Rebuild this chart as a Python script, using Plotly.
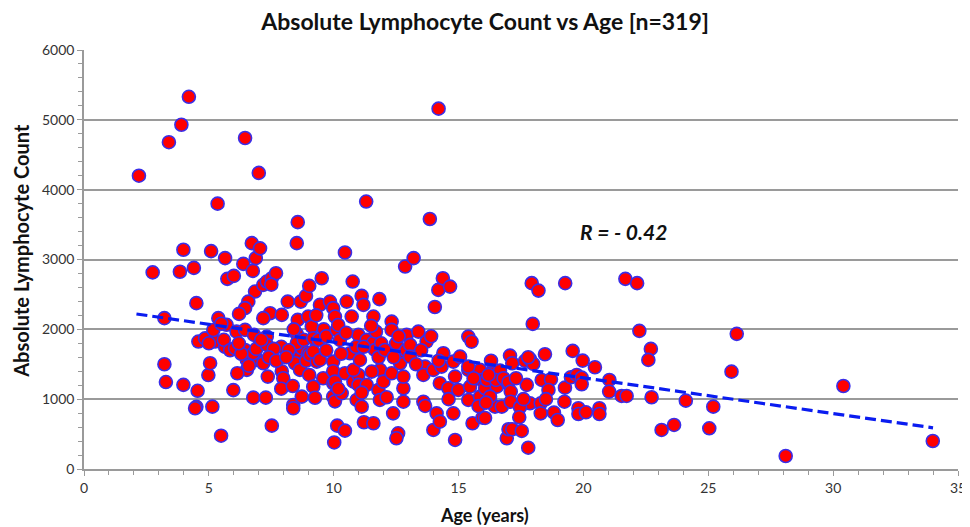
import plotly.graph_objects as go

# ---- data ----
age_a = [2.2, 3.4, 3.9, 4.2, 2.75, 3.84, 4.4, 3.98, 4.5, 3.22, 3.22, 3.28, 3.98, 4.55, 4.5, 4.58, 4.85, 4.98, 4.45]
alc_a = [4200, 4680, 4930, 5330, 2815, 2825, 2880, 3140, 2375, 2160, 1500, 1245, 1205, 1120, 890, 1825, 1870, 1345, 870]

age_b = [5.05, 5.14, 5.49, 5.35, 5.09, 5.65, 5.74, 5.25, 5.18, 5.38, 5.65, 5.71, 5.5, 5.98, 5.6, 5.85, 5.0]
alc_b = [1515, 893, 477, 3800, 3120, 3020, 2723, 1825, 1990, 2160, 1750, 2065, 2080, 1130, 1850, 1700, 1800]

age_c = [6.0, 6.05, 6.11, 6.45, 6.45, 6.81, 6.52, 6.14, 6.85, 6.78, 6.72, 6.88, 6.38, 6.76, 6.85, 6.58,
         6.45, 6.21, 6.45, 6.92, 6.52, 6.78, 6.3, 6.6, 6.9, 6.2]
alc_c = [2765, 1730, 1967, 1992, 1705, 1920, 1419, 1371, 1609, 1022, 3234, 3019, 2937, 2837, 2541, 2397,
         2303, 2221, 4740, 1562, 1562, 1658, 1650, 1480, 1720, 1800]

age_d = [7.0, 7.05, 7.18, 7.32, 7.52, 7.69, 7.5, 7.45, 7.92, 7.18, 7.32, 7.9, 7.18, 7.36, 7.92, 7.98,
         7.9, 7.28, 7.52, 7.32, 7.6, 7.1, 7.4, 7.7]
alc_d = [4240, 3160, 2637, 2684, 2732, 2804, 2640, 2230, 2207, 2160, 1896, 1750, 1514, 1323, 1400, 1300,
         1150, 1022, 621, 1777, 1720, 1850, 1600, 1550]

age_e = [8.56, 8.52, 8.16, 8.68, 8.56, 8.98, 8.52, 8.65, 8.45, 8.72, 8.36, 8.38, 8.38, 8.72, 8.65, 8.89,
         8.52, 8.98, 8.2, 8.8, 8.9, 8.1, 8.4]
alc_e = [3535, 3234, 2397, 2397, 2135, 2183, 1935, 1609, 1514, 1729, 1189, 917, 870, 1036, 1420, 2479,
         1801, 1658, 1700, 1850, 1550, 1600, 2000]

age_f = [9.02, 9.52, 9.45, 9.12, 9.18, 9.05, 9.32, 9.02, 9.18, 9.25, 9.58, 9.85, 9.98, 9.98, 9.98, 9.98,
         9.18, 9.45, 9.98, 9.6, 9.4, 9.7, 9.7, 9.3]
alc_f = [2622, 2732, 2350, 2039, 1872, 1634, 1538, 1347, 1179, 1020, 1300, 2397, 2303, 1538, 1400, 1036,
         1681, 1562, 1228, 2000, 1850, 1700, 1900, 2200]

age_g = [10.05, 10.12, 10.25, 10.05, 10.05, 10.32, 10.02, 10.14, 10.45, 10.45, 10.52, 10.76, 10.72, 10.99,
         10.18, 10.65, 10.79, 10.99, 10.79, 10.99, 10.92, 10.45, 10.3, 10.9, 10.5, 10.18]
alc_g = [2183, 1992, 1849, 1251, 969, 1084, 380, 621, 549, 1371, 2397, 2684, 2183, 1920,
         2063, 1658, 1251, 1347, 1419, 1204, 989, 3100, 1650, 1750, 1950, 1150]

age_h = [11.3, 11.12, 11.19, 11.32, 11.59, 11.59, 11.69, 11.83, 11.05, 11.12, 11.21, 11.59, 11.32, 11.79,
         11.86, 11.65, 11.52, 11.99, 11.12, 11.85, 11.8, 11.2, 11.5, 11.9]
alc_h = [3830, 2479, 2350, 1849, 2183, 1810, 1967, 2432, 1562, 893, 669, 655, 1204, 1132,
         1419, 1705, 1394, 1251, 1094, 989, 1600, 1750, 2050, 1800]

age_i = [12.05, 12.12, 12.32, 12.32, 12.38, 12.58, 12.51, 12.79, 12.79, 12.66, 12.92, 12.86, 12.66, 12.32,
         12.79, 12.5, 12.4, 12.9, 12.6]
alc_i = [1705, 1027, 2111, 1992, 797, 511, 440, 964, 1156, 1514, 1920, 2899, 1681, 1371,
         1323, 1800, 1600, 1700, 1900]

age_j = [13.2, 13.06, 13.39, 13.06, 13.66, 13.59, 13.72, 13.85, 14.05, 13.59, 13.66, 13.99, 13.99, 13.3,
         13.5, 13.9]
alc_j = [3020, 1777, 1967, 1609, 1466, 1347, 1824, 3580, 2320, 964, 903, 559, 1419, 1500,
         1700, 1900]

age_k = [14.2, 14.19, 14.37, 14.66, 14.12, 14.25, 14.86, 14.79, 14.25, 14.59, 14.32, 14.39, 14.79, 14.99,
         14.86, 14.6, 14.2]
alc_k = [5160, 2565, 2732, 2612, 797, 678, 416, 797, 1228, 1156, 1466, 1658, 1538, 1132,
         1323, 1000, 1550]

age_l = [15.06, 15.39, 15.52, 15.39, 15.39, 15.56, 15.86, 15.86, 15.96, 15.39, 15.46, 15.92, 15.6, 15.8]
alc_l = [1609, 1896, 1824, 1419, 989, 655, 1419, 1036, 735, 1466, 1179, 1275, 1300, 900]

age_m = [16.46, 16.33, 16.39, 16.06, 16.53, 16.13, 16.66, 16.5, 16.2, 16.26, 16.06, 16.73, 16.93, 16.97,
         16.3, 16.8, 16.1]
alc_m = [893, 1204, 1419, 1156, 1179, 1275, 1409, 1275, 1347, 1036, 731, 893, 440, 1228,
         1550, 1300, 950]

age_n = [17.06, 17.15, 17.66, 17.86, 17.99, 17.79, 17.93, 17.97, 17.0, 17.73, 17.09, 17.09, 17.86, 17.46,
         17.43, 17.0, 17.15, 17.53, 17.79, 17.3, 17.6]
alc_n = [1624, 1514, 1548, 1572, 1505, 1600, 2661, 2078, 1242, 1204, 1108, 964, 941, 884,
         741, 569, 569, 545, 305, 1300, 1000]

age_o = [18.2, 18.46, 18.33, 18.7, 18.6, 18.29, 18.29, 18.82, 18.97, 18.5]
alc_o = [2555, 1643, 1275, 1285, 1132, 941, 797, 807, 702, 1000]

age_p = [19.27, 19.57, 19.97, 19.26, 19.5, 19.73, 19.93, 19.93, 19.24, 19.8, 19.8]
alc_p = [2661, 1691, 1552, 1165, 1314, 1347, 1308, 1213, 964, 870, 788]

age_q = [20.46, 20.1, 20.64, 20.64]
alc_q = [1457, 812, 870, 788]

age_r = [21.04, 21.03, 21.53, 21.73, 21.68, 22.15, 22.24, 22.7, 22.6, 22.73, 24.1, 25.2, 23.13, 23.63,
         25.04, 25.93, 26.14, 28.1, 30.41, 33.99]
alc_r = [1275, 1108, 1046, 1046, 2723, 2661, 1978, 1720, 1562, 1027, 979, 893, 559, 631,
         583, 1394, 1935, 186, 1189, 401]

trend_age = [2.1, 34.0]
trend_alc = [2220, 590]

x_ticks = [0, 5, 10, 15, 20, 25, 30, 35]
y_ticks = [0, 1000, 2000, 3000, 4000, 5000, 6000]

ages = (age_a + age_b + age_c + age_d + age_e + age_f + age_g + age_h + age_i + age_j +
        age_k + age_l + age_m + age_n + age_o + age_p + age_q + age_r)
alcs = (alc_a + alc_b + alc_c + alc_d + alc_e + alc_f + alc_g + alc_h + alc_i + alc_j +
        alc_k + alc_l + alc_m + alc_n + alc_o + alc_p + alc_q + alc_r)

FONT = "Lato"
GRID = "#9a9a9a"

fig = go.Figure()
fig.add_trace(go.Scatter(
    x=ages, y=alcs, mode="markers",
    marker=dict(size=13, color="#ff0000", line=dict(color="#3a2ee8", width=1.6)),
    showlegend=False, hoverinfo="x+y"))
fig.add_trace(go.Scatter(
    x=trend_age, y=trend_alc, mode="lines",
    line=dict(color="#0a1cf0", width=3.2, dash="11px,5px"),
    showlegend=False, hoverinfo="skip"))

fig.add_annotation(x=21.6, y=3400, text="<b><i>R = - 0.42</i></b>", showarrow=False,
                   font=dict(family=FONT, size=21, color="#111111"))

# axis titles placed as paper annotations to match the reference positions
fig.add_annotation(xref="paper", yref="paper", x=0.4577, y=-0.11, xanchor="center", yanchor="middle",
                   text="<b>Age (years)</b>", showarrow=False,
                   font=dict(family=FONT, size=18, color="#111111"))
fig.add_annotation(xref="paper", yref="paper", x=-0.0725, y=0.52, xanchor="center", yanchor="middle",
                   text="<b>Absolute Lymphocyte Count</b>", showarrow=False, textangle=-90,
                   font=dict(family=FONT, size=20, color="#111111"))

# the page body has an 8px margin, so the figure is sized/offset to compensate
fig.update_layout(
    width=962, height=519,
    margin=dict(l=76, r=12, t=42, b=58),
    paper_bgcolor="white", plot_bgcolor="white",
    font=dict(family=FONT, color="#333333"),
    title=dict(text="<b>Absolute Lymphocyte Count vs Age [n=319]</b>", x=0.496, xanchor="center",
               y=0.973, yanchor="middle", font=dict(family=FONT, size=23, color="#111111")),
    xaxis=dict(range=[0, 35], tickvals=x_ticks, showgrid=False, zeroline=False, automargin=False,
               showline=True, linecolor=GRID, linewidth=1.5,
               ticks="outside", ticklen=5, tickcolor=GRID, tickwidth=1.2,
               minor=dict(dtick=1, ticks="outside", ticklen=4, tickcolor=GRID, tickwidth=1),
               tickfont=dict(family=FONT, size=14, color="#333333")),
    yaxis=dict(range=[0, 6000], tickvals=y_ticks, showgrid=True, gridcolor=GRID, gridwidth=1.5,
               zeroline=False, showline=True, linecolor=GRID, linewidth=1.5, automargin=False,
               ticks="outside", ticklen=5, tickcolor=GRID, tickwidth=1.2,
               minor=dict(dtick=200, ticks="outside", ticklen=4, tickcolor=GRID, tickwidth=1, showgrid=False),
               tickfont=dict(family=FONT, size=14, color="#333333")),
)

fig.write_html("out.html")
